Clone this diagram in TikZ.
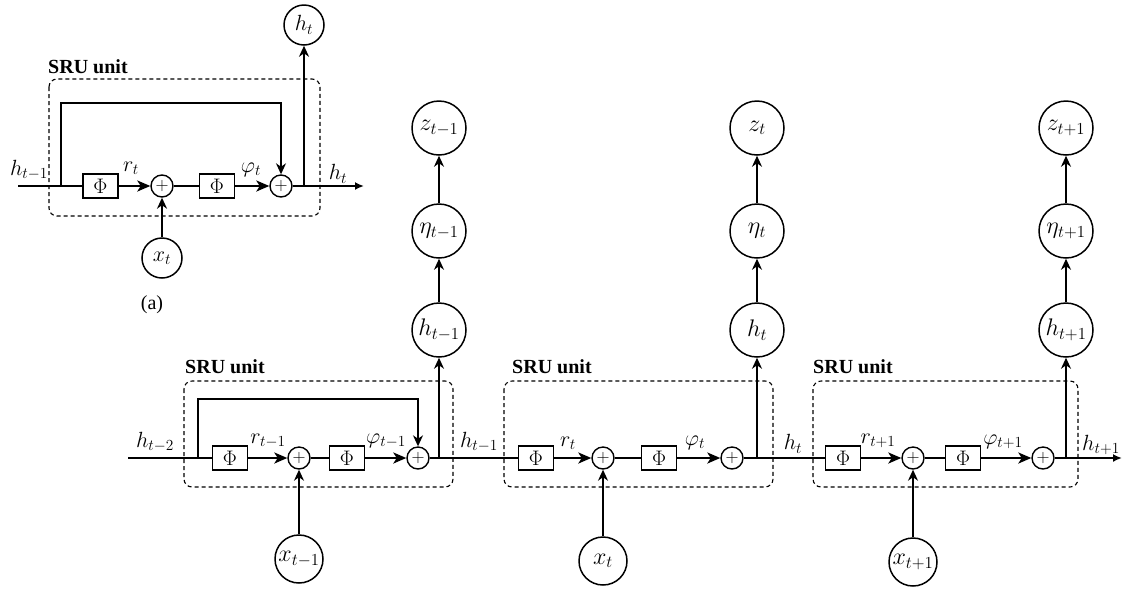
\RequirePackage{fix-cm}
\documentclass[tikz,border=0pt]{standalone}
\usepackage{fontspec}
\setmainfont{Liberation Serif}
\usetikzlibrary{arrows.meta}
\begin{document}
\begin{tikzpicture}[x=1pt,y=-1pt,
  thickline/.style={line width=2.3pt},
  thinline/.style={line width=1.5pt},
  bigarr/.style={-{Stealth[length=13pt,width=11pt,inset=3.5pt]}},
  uparr/.style={-{Stealth[length=11pt,width=10pt,inset=3.5pt]}},
  endarr/.style={-{Latex[length=9pt,width=8pt]}},
  phibox/.style={draw,line width=1.4pt,minimum width=35pt,minimum height=24pt,inner sep=0pt,font=\fontsize{21}{21}\selectfont},
  plusnode/.style={draw,circle,line width=1.4pt,minimum size=22pt,inner sep=0pt,font=\fontsize{18}{18}\selectfont},
  bigc/.style={draw,circle,line width=1.5pt,minimum size=54pt,inner sep=0pt,font=\fontsize{24}{24}\selectfont},
  xc/.style={draw,circle,line width=1.5pt,minimum size=48pt,inner sep=0pt,font=\fontsize{24}{24}\selectfont},
  smallc/.style={draw,circle,line width=1.5pt,minimum size=40pt,inner sep=0pt,font=\fontsize{22}{22}\selectfont},
  lbl/.style={inner sep=0pt,font=\fontsize{22}{22}\selectfont},
  unitbox/.style={draw,line width=1.1pt,rounded corners=8pt,dash pattern=on 4pt off 3pt},
  unitlbl/.style={anchor=west,inner sep=0pt,font=\fontsize{20}{20}\selectfont\bfseries}
]
\useasboundingbox (0,0) rectangle (1123,590);

% ================= panel (a) =================
\draw[unitbox] (49,79) rectangle (320,216);
\node[unitlbl] (sruA) at (48,67) {SRU unit};
\coordinate (aS) at (18,186);
\coordinate (aB) at (61,186);
\node[phibox] (aPhi1) at (100.5,186) {$\Phi$};
\node[plusnode] (aP1) at (162,186) {$+$};
\node[phibox] (aPhi2) at (217,186) {$\Phi$};
\node[plusnode] (aP2) at (281,186) {$+$};
\coordinate (aV) at (304,186);
\coordinate (aE) at (364,186);
\node[smallc] (aH) at (304,25) {$h_t$};
\node[smallc] (aX) at (162,258) {$x_t$};
\draw[thickline] (aS) -- (aPhi1.west);
\draw[thickline,bigarr] (aPhi1.east) -- (aP1.west);
\draw[thickline] (aP1.east) -- (aPhi2.west);
\draw[thickline,bigarr] (aPhi2.east) -- (aP2.west);
\draw[thickline,endarr] (aP2.east) -- (aE);
\draw[thinline,uparr] (aB) -- ++(0,-83) -| (aP2.north);
\draw[thickline,uparr] (aV) -- (aH.south);
\draw[thickline,uparr] (aX.north) -- (aP1.south);
\node[lbl] (aL1) at (29,170) {$h_{t-1}$};
\node[lbl] (aL2) at (131,168) {$r_t$};
\node[lbl] (aL3) at (251,170) {$\varphi_t$};
\node[lbl] (aL4) at (338,174) {$h_t$};
\node[inner sep=0pt,font=\fontsize{20}{20}\selectfont] (capA) at (152,305) {(a)};

% ================= panel (b) =================
\draw[unitbox] (184,381) rectangle (453,487);
\draw[unitbox] (504,381) rectangle (773,487);
\draw[unitbox] (813,381) rectangle (1078,487);
\node[unitlbl] (sru1) at (185,367) {SRU unit};
\node[unitlbl] (sru2) at (512,367) {SRU unit};
\node[unitlbl] (sru3) at (813,367) {SRU unit};

\coordinate (bS) at (128,458);
\coordinate (bB) at (198,458);
% unit 1
\node[phibox] (u1Phi1) at (230,458) {$\Phi$};
\node[plusnode] (u1P1) at (299,458) {$+$};
\node[phibox] (u1Phi2) at (347,458) {$\Phi$};
\node[plusnode] (u1P2) at (418,458) {$+$};
\coordinate (u1V) at (439,458);
% unit 2
\node[phibox] (u2Phi1) at (536,458) {$\Phi$};
\node[plusnode] (u2P1) at (603,458) {$+$};
\node[phibox] (u2Phi2) at (659,458) {$\Phi$};
\node[plusnode] (u2P2) at (732,458) {$+$};
\coordinate (u2V) at (757,458);
% unit 3
\node[phibox] (u3Phi1) at (843,458) {$\Phi$};
\node[plusnode] (u3P1) at (913,458) {$+$};
\node[phibox] (u3Phi2) at (963,458) {$\Phi$};
\node[plusnode] (u3P2) at (1043,458) {$+$};
\coordinate (u3V) at (1066,458);
\coordinate (bE) at (1122,458);

% top circles
\node[bigc] (h1) at (439,330) {$h_{t-1}$};
\node[bigc] (e1) at (439,231) {$\eta_{t-1}$};
\node[bigc] (z1) at (439,128) {$z_{t-1}$};
\node[bigc] (h2) at (757,330) {$h_t$};
\node[bigc] (e2) at (757,231) {$\eta_t$};
\node[bigc] (z2) at (757,128) {$z_t$};
\node[bigc] (h3) at (1066,330) {$h_{t+1}$};
\node[bigc] (e3) at (1066,231) {$\eta_{t+1}$};
\node[bigc] (z3) at (1066,128) {$z_{t+1}$};
% bottom circles
\node[xc] (x1) at (299,559) {$x_{t-1}$};
\node[xc] (x2) at (603,561) {$x_t$};
\node[xc] (x3) at (913,562) {$x_{t+1}$};

% main flow
\draw[thickline] (bS) -- (u1Phi1.west);
\draw[thickline,bigarr] (u1Phi1.east) -- (u1P1.west);
\draw[thickline] (u1P1.east) -- (u1Phi2.west);
\draw[thickline,bigarr] (u1Phi2.east) -- (u1P2.west);
\draw[thickline] (u1P2.east) -- (u2Phi1.west);
\draw[thickline,bigarr] (u2Phi1.east) -- (u2P1.west);
\draw[thickline] (u2P1.east) -- (u2Phi2.west);
\draw[thickline,bigarr] (u2Phi2.east) -- (u2P2.west);
\draw[thickline] (u2P2.east) -- (u3Phi1.west);
\draw[thickline,bigarr] (u3Phi1.east) -- (u3P1.west);
\draw[thickline] (u3P1.east) -- (u3Phi2.west);
\draw[thickline,bigarr] (u3Phi2.east) -- (u3P2.west);
\draw[thickline,endarr] (u3P2.east) -- (bE);
% skip connection
\draw[thinline,uparr] (bB) -- ++(0,-59) -| (u1P2.north);
% up branches
\draw[thinline,uparr] (u1V) -- (h1.south);
\draw[thinline,uparr] (u2V) -- (h2.south);
\draw[thinline,uparr] (u3V) -- (h3.south);
\draw[thinline,uparr] (h1.north) -- (e1.south);
\draw[thinline,uparr] (e1.north) -- (z1.south);
\draw[thinline,uparr] (h2.north) -- (e2.south);
\draw[thinline,uparr] (e2.north) -- (z2.south);
\draw[thinline,uparr] (h3.north) -- (e3.south);
\draw[thinline,uparr] (e3.north) -- (z3.south);
% inputs
\draw[thinline,uparr] (x1.north) -- (u1P1.south);
\draw[thinline,uparr] (x2.north) -- (u2P1.south);
\draw[thinline,uparr] (x3.north) -- (u3P1.south);

% labels
\node[lbl] (l1) at (155,442) {$h_{t-2}$};
\node[lbl] (l2) at (268,441) {$r_{t-1}$};
\node[lbl] (l3) at (386,441) {$\varphi_{t-1}$};
\node[lbl] (l4) at (479,442) {$h_{t-1}$};
\node[lbl] (l5) at (568,443) {$r_t$};
\node[lbl] (l6) at (695,443) {$\varphi_t$};
\node[lbl] (l7) at (793,444) {$h_t$};
\node[lbl] (l8) at (878,441) {$r_{t+1}$};
\node[lbl] (l9) at (1003,442) {$\varphi_{t+1}$};
\node[lbl] (l10) at (1101,445) {$h_{t+1}$};
\end{tikzpicture}
\end{document}
